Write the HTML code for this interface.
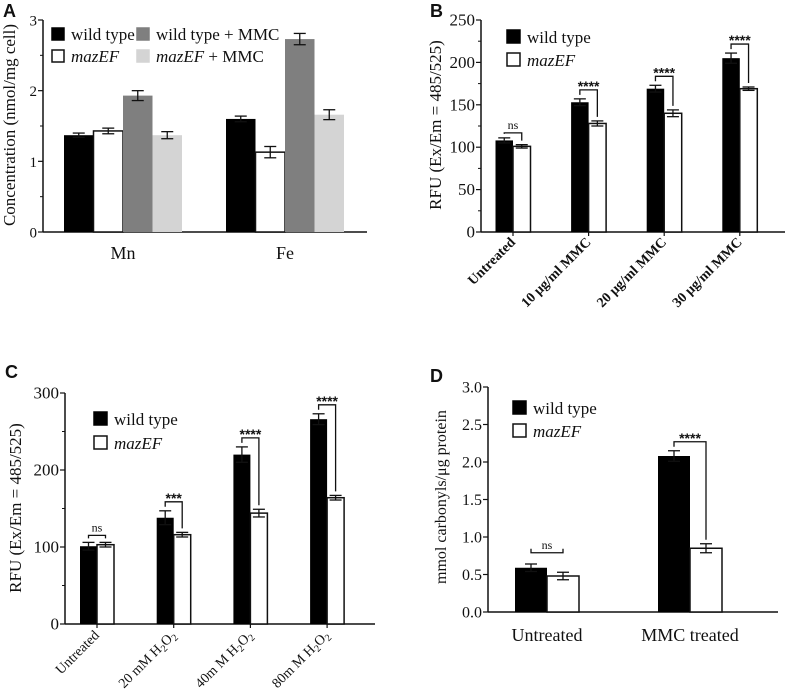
<!DOCTYPE html>
<html><head><meta charset="utf-8"><style>
body{margin:0;background:#fff;width:787px;height:699px;overflow:hidden}
svg{position:absolute;left:0;top:0}
text{fill:#111}
</style></head><body>
<svg id="fig" width="787" height="699"></svg>
<script>
// Panel A data
const aCats = ["Mn","Fe"];
const aSeries = ["wild type","mazEF","wild type + MMC","mazEF + MMC"];
const aVals = [[1.37,1.60],[1.43,1.13],[1.93,2.73],[1.37,1.66]];
const aErr = [[0.03,0.04],[0.04,0.08],[0.07,0.08],[0.05,0.07]];
const aTicks = [0,1,2,3];
// Panel B data
const bCats = ["Untreated","10 μg/ml MMC","20 μg/ml MMC","30 μg/ml MMC"];
const bWT = [108,153,169,205];
const bMZ = [101,128,140,169];
const bWTErr = [3,4,4,6];
const bMZErr = [2,3,4,2];
const bSig = ["ns","****","****","****"];
const bTicks = [0,50,100,150,200,250];
// Panel C data
const cCats = ["Untreated","20 mM H2O2","40m M H2O2","80m M H2O2"];
const cWT = [101,138,220,266];
const cMZ = [103,116,144,164];
const cWTErr = [5,9,10,7];
const cMZErr = [3,3,5,3];
const cSig = ["ns","***","****","****"];
const cTicks = [0,100,200,300];
// Panel D data
const dCats = ["Untreated","MMC treated"];
const dWT = [0.59,2.08];
const dMZ = [0.48,0.85];
const dWTErr = [0.05,0.07];
const dMZErr = [0.05,0.06];
const dSig = ["ns","****"];
const dTicks = [0,0.5,1.0,1.5,2.0,2.5,3.0];

const NS="http://www.w3.org/2000/svg";
const svg=document.getElementById('fig');
const SERIF='"Liberation Serif",serif', SANS='"Liberation Sans",sans-serif';
function el(tag,attrs,parent,txt){const e=document.createElementNS(NS,tag);for(const k in attrs)e.setAttribute(k,attrs[k]);if(tag==='text'&&!attrs['font-family'])e.setAttribute('font-family',SERIF);if(txt!==undefined)e.textContent=txt;(parent||svg).appendChild(e);return e;}

function axes(g,x0,x1,y0,y1,vmax,ticks,dec,minor,fs){
  const ys=v=>y0-(v/vmax)*(y0-y1);
  const ax=el('line',{x1:x0,y1:y1,x2:x0,y2:y0,stroke:'#111','stroke-width':1.5},g);
  
  const bx=el('line',{x1:x0,y1:y0,x2:x1,y2:y0,stroke:'#111','stroke-width':1.5},g);
  
  ticks.forEach(t=>{
    el('line',{x1:x0-5,y1:ys(t),x2:x0,y2:ys(t),stroke:'#111','stroke-width':1.2},g);
    const tl=el('text',{x:x0-6,y:ys(t)+5.5,'text-anchor':'end','font-size':fs},g,t.toFixed(dec));
    
  });
  if(minor){for(let i=0;i<ticks.length-1;i++){const m=(ticks[i]+ticks[i+1])/2;el('line',{x1:x0-3,y1:ys(m),x2:x0,y2:ys(m),stroke:'#111','stroke-width':1},g);}}
  return ys;
}
function bar(g,x,w,v,e,ys,y0,fill,stroke,name){
  const r=el('rect',{x:x,y:ys(v),width:w,height:y0-ys(v),fill:fill,stroke:stroke,'stroke-width':stroke==='none'?0:1.5},g);
  
  const cx=x+w/2;
  el('line',{x1:cx,y1:ys(v+e),x2:cx,y2:ys(v-e),stroke:'#111','stroke-width':1.3},g);
  el('line',{x1:cx-6,y1:ys(v+e),x2:cx+6,y2:ys(v+e),stroke:'#111','stroke-width':1.3},g);
  el('line',{x1:cx-6,y1:ys(v-e),x2:cx+6,y2:ys(v-e),stroke:'#111','stroke-width':1.3},g);
}
function legend(g,x,y,items,fs,sq,gap){
  items.forEach((it,i)=>{
    const yy=y+i*gap;
    const s=el('rect',{x:x,y:yy,width:sq,height:sq,fill:it.fill,stroke:it.stroke,'stroke-width':1.5},g);
    
    const t=el('text',{x:x+sq+7,y:yy+sq,'font-size':fs,'font-style':it.italic?'italic':'normal'},g,it.label);
    
  });
}
function sig(g,xl,xr,topL,topR,ys,label,off,fs){
  const ty=Math.min(ys(topL),ys(topR))-off;
  el('polyline',{points:`${xl},${ys(topL)-4} ${xl},${ty} ${xr},${ty} ${xr},${ys(topR)-4}`,fill:'none',stroke:'#111','stroke-width':1.3},g);
  const isNs=label==='ns';
  const t=el('text',{x:(xl+xr)/2,y:isNs?ty-4:ty+1,'text-anchor':'middle','font-size':isNs?12:fs,'font-family':isNs?SERIF:SANS,'font-weight':isNs?'normal':'bold'},g,label);
  
}
function letter(x,y,s){const t=el('text',{x:x,y:y,'font-size':18,'font-weight':'bold','font-family':SANS},svg,s);}
function ylabel(g,x,y,s,fs){const t=el('text',{x:x,y:y,'text-anchor':'middle','font-size':fs,transform:`rotate(-90 ${x} ${y})`},g,s);}

// ---- Panel A ----
(function(){
  const g=el('g',{});
  letter(3,17,'A');
  const x0=43,x1=367,y0=232,y1=20;
  const ys=axes(g,x0,x1,y0,y1,3,aTicks,0,true,15);
  const fills=['#000','#fff','#7f7f7f','#d4d4d4'];const strokes=['none','#111','none','none'];
  const centers=[123,285],w=29.5;
  aCats.forEach((c,ci)=>{
    aSeries.forEach((s,si)=>{bar(g,centers[ci]-2*w+si*w,w,aVals[si][ci],aErr[si][ci],ys,y0,fills[si],strokes[si],'bar-'+c.toLowerCase()+'-'+si);});
    const t=el('text',{x:centers[ci],y:259,'text-anchor':'middle','font-size':18},g,c);
  });
  legend(g,52,28,[{fill:'#000',stroke:'#000',label:'wild type'},{fill:'#fff',stroke:'#111',label:'mazEF',italic:true}],17,12,22);
  const g2=el('g',{},g);
  legend(g2,137,28,[{fill:'#7f7f7f',stroke:'#7f7f7f',label:'wild type + MMC'},{fill:'#d4d4d4',stroke:'#d4d4d4',label:'mazEF + MMC',italic:false}],17,12,22);
  g2.lastChild.innerHTML='<tspan font-style="italic">mazEF</tspan> + MMC';
  ylabel(g,15,125,'Concentration (nmol/mg cell)',17);
})();

// ---- Panel B ----
(function(){
  const g=el('g',{});
  letter(430,17,'B');
  const x0=481,x1=785,y0=232,y1=20;
  const ys=axes(g,x0,x1,y0,y1,250,bTicks,0,true,17);
  const w=17.5,c0=513,sp=75.6;
  bCats.forEach((c,i)=>{
    const cx=c0+i*sp;
    bar(g,cx-w,w,bWT[i],bWTErr[i],ys,y0,'#000','none','bar-wt-'+i);
    bar(g,cx,w,bMZ[i],bMZErr[i],ys,y0,'#fff','#111','bar-mazef-'+i);
    sig(g,cx-w/2,cx+w/2,bWT[i]+bWTErr[i],bMZ[i]+bMZErr[i],ys,bSig[i],bSig[i]==='ns'?5:9,14);
    el('line',{x1:cx,y1:y0,x2:cx,y2:y0+4,stroke:'#111','stroke-width':1.2},g);
    const t=el('text',{x:cx+3,y:y0+11,'text-anchor':'end','font-size':14,'font-weight':'bold',transform:`rotate(-45 ${cx+3} ${y0+11})`},g,c);
    
  });
  legend(g,507,30,[{fill:'#000',stroke:'#000',label:'wild type'},{fill:'#fff',stroke:'#111',label:'mazEF',italic:true}],17,13,23);
  ylabel(g,441,125,'RFU (Ex/Em = 485/525)',17);
})();

// ---- Panel C ----
(function(){
  const g=el('g',{});
  letter(5,378,'C');
  const x0=65,x1=375,y0=624,y1=393;
  const ys=axes(g,x0,x1,y0,y1,300,cTicks,0,true,17);
  const w=17,c0=97,sp=76.7;
  cCats.forEach((c,i)=>{
    const cx=c0+i*sp;
    bar(g,cx-w,w,cWT[i],cWTErr[i],ys,y0,'#000','none','bar-wt-'+i);
    bar(g,cx,w,cMZ[i],cMZErr[i],ys,y0,'#fff','#111','bar-mazef-'+i);
    sig(g,cx-w/2,cx+w/2,cWT[i]+cWTErr[i],cMZ[i]+cMZErr[i],ys,cSig[i],cSig[i]==='ns'?7:9,14);
    el('line',{x1:cx,y1:y0,x2:cx,y2:y0+4,stroke:'#111','stroke-width':1.2},g);
    const t=el('text',{x:cx+3,y:y0+12,'text-anchor':'end','font-size':14,transform:`rotate(-45 ${cx+3} ${y0+12})`},g);
    t.innerHTML=c.replace(/H2O2/,'H<tspan font-size="10" dy="3">2</tspan><tspan dy="-3">O</tspan><tspan font-size="10" dy="3">2</tspan>');
    
  });
  legend(g,94,412,[{fill:'#000',stroke:'#000',label:'wild type'},{fill:'#fff',stroke:'#111',label:'mazEF',italic:true}],17,13,24);
  ylabel(g,21,508,'RFU (Ex/Em = 485/525)',17);
})();

// ---- Panel D ----
(function(){
  const g=el('g',{});
  letter(430,382,'D');
  const x0=488,x1=778,y0=612,y1=387;
  const ys=axes(g,x0,x1,y0,y1,3,dTicks,1,false,16);
  const w=32,cs=[547,690];
  dCats.forEach((c,i)=>{
    const cx=cs[i];
    bar(g,cx-w,w,dWT[i],dWTErr[i],ys,y0,'#000','none','bar-wt-'+i);
    bar(g,cx,w,dMZ[i],dMZErr[i],ys,y0,'#fff','#111','bar-mazef-'+i);
    if(dSig[i]==='ns') sig(g,cx-w/2,cx+w/2,dWT[i]+dWTErr[i]+0.15,dWT[i]+dWTErr[i]+0.15,ys,dSig[i],0,14);
    else sig(g,cx-w/2,cx+w/2,dWT[i]+dWTErr[i],dMZ[i]+dMZErr[i],ys,dSig[i],9,14);
    const t=el('text',{x:cx,y:641,'text-anchor':'middle','font-size':18},g,c);
    
  });
  legend(g,513,401,[{fill:'#000',stroke:'#000',label:'wild type'},{fill:'#fff',stroke:'#111',label:'mazEF',italic:true}],17,13,23);
  ylabel(g,446,497,'mmol carbonyls/μg protein',16);
})();
</script>
</body></html>
